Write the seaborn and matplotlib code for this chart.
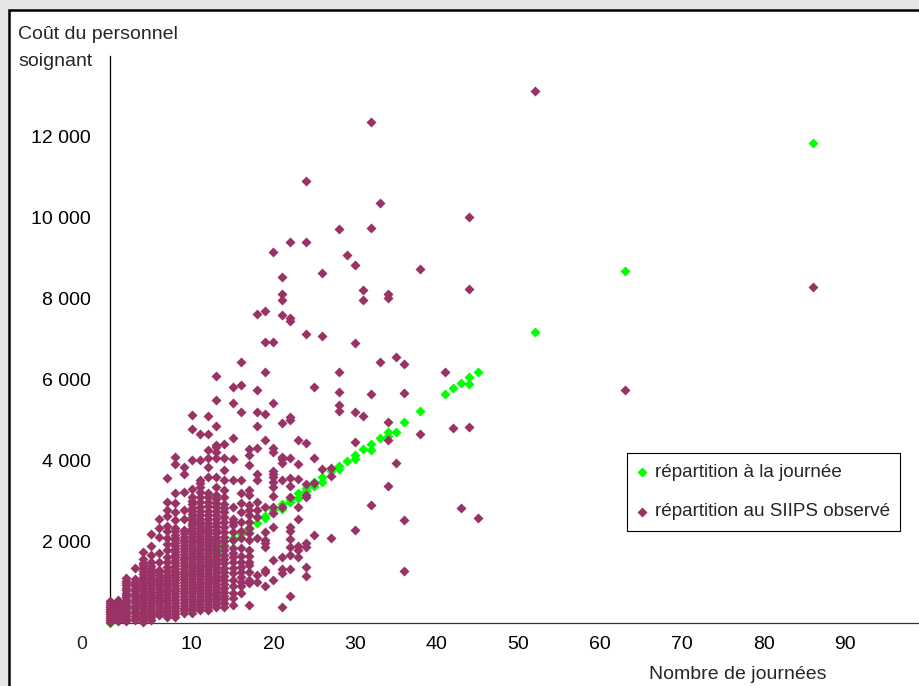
import matplotlib
matplotlib.use("Agg")
import matplotlib.pyplot as plt
from matplotlib.patches import Rectangle
import pandas as pd
import seaborn as sns

# ---------------- data ----------------
# "répartition à la journée" (green)
jour_x = [0, 1, 2, 3, 4, 5, 6, 7, 8, 9, 10, 11, 12, 13, 13, 14, 15, 15, 16, 17, 17,
          18, 19, 19, 20, 20, 21, 21, 22, 22, 23, 23, 24, 24, 25, 25, 26, 26, 27, 28, 28,
          29, 30, 30, 31, 32, 32, 33, 34, 34, 35, 36, 38, 41, 42, 43, 44, 44, 45, 52, 63, 86]
jour_y = [0, 140, 275, 410, 550, 685, 820, 960, 1095, 1230, 1370, 1505, 1630, 1750, 1830,
          1915, 2040, 2095, 2180, 2300, 2330, 2466, 2573, 2631, 2696, 2779, 2795, 2927,
          2985, 3050, 3067, 3190, 3256, 3314, 3380, 3479, 3462, 3603, 3750, 3783, 3874,
          3997, 4030, 4137, 4277, 4261, 4409, 4549, 4615, 4697, 4714, 4961, 5232, 5644,
          5784, 5924, 5891, 6056, 6195, 7175, 8680, 11843]

# "répartition au SIIPS observé" (purple) : one list per number of days
p_j0 = [20, 60, 110, 150, 200, 250, 290, 340, 390, 430, 480, 540]
p_j1 = [30, 70, 120, 170, 210, 260, 300, 350, 400, 450, 500, 550]
p_j2 = [40, 90, 150, 210, 270, 330, 380, 440, 500, 560, 620, 680, 740, 800, 860, 920, 970, 1030, 1090]
p_j3 = [50, 110, 170, 230, 290, 350, 410, 470, 530, 590, 650, 710, 770, 830, 890, 950, 1010, 1080, 1340]
p_j4 = [20, 80, 150, 220, 290, 360, 430, 500, 570, 640, 710, 780, 850, 920, 990, 1060, 1130,
        1200, 1270, 1340, 1410, 1480, 1580, 1750]
p_j5 = [60, 130, 200, 270, 340, 410, 480, 550, 620, 690, 760, 830, 900, 970, 1040, 1110, 1180,
        1250, 1320, 1390, 1500, 1670, 1890, 2180]
p_j6 = [190, 260, 330, 400, 470, 540, 610, 680, 750, 820, 890, 960, 1030, 1100, 1170, 1240,
        1300, 1500, 1710, 2120, 2330, 2560]
p_j7 = [140, 210, 280, 350, 420, 490, 560, 630, 700, 770, 840, 910, 980, 1050, 1120, 1180,
        1280, 1380, 1500, 1630, 1790, 1930, 2080, 2250, 2380, 2630, 2780, 2980, 3580]
p_j8 = [140, 210, 280, 350, 420, 490, 560, 630, 700, 770, 840, 910, 980, 1050, 1120, 1190,
        1260, 1330, 1400, 1470, 1540, 1610, 1680, 1750, 1820, 1890, 1960, 2030, 2100, 2170,
        2250, 2330, 2530, 2740, 2960, 3190, 3920, 4100]
p_j9 = [230, 300, 370, 440, 510, 580, 650, 720, 790, 860, 930, 1000, 1070, 1140, 1210, 1280,
        1350, 1420, 1490, 1560, 1630, 1700, 1770, 1840, 1910, 1980, 2050, 2120, 2200, 2290,
        2570, 2780, 3230, 3660, 3850]
p_j10 = [230, 300, 370, 440, 510, 580, 650, 720, 790, 860, 930, 1000, 1070, 1140, 1210, 1280,
         1350, 1420, 1490, 1560, 1630, 1700, 1770, 1840, 1910, 1980, 2050, 2120, 2190, 2260,
         2330, 2400, 2470, 2540, 2610, 2680, 2750, 2830, 2920, 3000, 3110, 3310, 4010, 4790, 5120]
p_j11 = [310, 380, 450, 520, 590, 660, 730, 800, 870, 940, 1010, 1080, 1150, 1220, 1290, 1360,
         1430, 1500, 1570, 1640, 1710, 1780, 1850, 1920, 1990, 2060, 2130, 2200, 2270, 2340,
         2410, 2480, 2560, 2650, 2750, 2860, 2980, 3100, 3230, 3360, 3440, 3520, 4010, 4670]
p_j12 = [310, 380, 450, 520, 590, 660, 730, 800, 870, 940, 1010, 1080, 1150, 1220, 1290, 1360,
         1430, 1500, 1570, 1640, 1710, 1780, 1850, 1920, 1990, 2060, 2130, 2200, 2280, 2370,
         2460, 2560, 2660, 2760, 2870, 2980, 3090, 3190, 3600, 3850, 4060, 4260, 4670, 5110]
p_j13 = [390, 460, 530, 600, 670, 740, 810, 880, 950, 1020, 1090, 1160, 1230, 1300, 1370, 1440,
         1510, 1580, 1650, 1720, 1800, 1880, 1960, 2040, 2120, 2200, 2290, 2380, 2470, 2560,
         2660, 2760, 2860, 2960, 3060, 3150, 3360, 3600, 4060, 4220, 4340, 4390, 4850, 5510, 6100]
p_j14 = [390, 480, 570, 660, 750, 850, 950, 1050, 1150, 1250, 1350, 1460, 1570, 1680, 1790,
         1900, 2010, 2120, 2240, 2360, 2480, 2600, 2720, 2830, 2940, 3110, 3270, 3520, 3770,
         4060, 4400]
p_j15 = [430, 600, 720, 890, 1050, 1220, 1340, 1500, 1630, 1710, 1850, 2040, 2240, 2400, 2490,
         2570, 2860, 3520, 4050, 4570, 5420, 5810]
p_j16 = [720, 890, 1010, 1130, 1260, 1380, 1500, 1640, 1830, 2100, 2250, 2490, 2740, 2950, 3190,
         3520, 5190, 5880, 6450]
p_j17 = [430, 970, 1050, 1260, 1420, 1500, 1640, 1790, 2040, 2200, 2330, 2490, 2660, 2780, 2900,
         3150, 3270, 3890, 4140, 4300]
p_j18 = [1010, 1170, 2080, 2610, 2780, 2980, 3520, 3670, 4320, 4850, 5190, 5740, 7620]
p_j19 = [890, 1260, 1300, 1870, 1960, 2040, 2240, 2860, 4520, 5150, 6190, 6930, 7690]
p_j20 = [1050, 1540, 2370, 2700, 2860, 3130, 3340, 3460, 3590, 3670, 3750, 4220, 4310, 5430,
         6930, 9150]
p_j21 = [375, 1215, 1310, 1630, 2860, 3520, 3950, 4030, 4100, 4940, 7600, 7960, 8120, 8540]
p_j22 = [660, 1330, 1670, 1870, 2060, 2260, 2370, 3110, 3370, 3580, 4070, 5000, 5070, 7450,
         7530, 9410]
p_j23 = [1620, 1790, 1890, 2560, 2860, 3550, 3920, 4510]

siips_cols = [p_j0, p_j1, p_j2, p_j3, p_j4, p_j5, p_j6, p_j7, p_j8, p_j9, p_j10, p_j11,
              p_j12, p_j13, p_j14, p_j15, p_j16, p_j17, p_j18, p_j19, p_j20, p_j21, p_j22, p_j23]

# sparse purple points (24 days and more)
siips_x = [24, 24, 24, 24, 24, 24, 24, 24, 24, 24, 24,
           25, 25, 25, 25,
           26, 26, 26,
           27, 27, 27,
           28, 28, 28, 28, 28,
           29,
           30, 30, 30, 30, 30,
           31, 31, 31,
           32, 32, 32, 32,
           33, 33,
           34, 34, 34, 34, 34,
           35, 35,
           36, 36, 36, 36,
           38, 38, 41, 42, 43, 44, 44, 44, 45, 52, 63, 86]
siips_y = [1140, 1370, 1870, 1960, 3090, 3150, 3420, 4440, 7120, 9410, 10910,
           2170, 3440, 4070, 5810,
           3790, 7090, 8630,
           2080, 3620, 3810,
           5230, 5370, 5700, 6180, 9730,
           9090,
           2290, 4470, 5190, 6910, 8830,
           5100, 7980, 8210,
           2900, 5640, 9740, 12360,
           6430, 10370,
           3370, 4510, 4950, 8020, 8130,
           3930, 6550,
           1280, 2530, 5660, 6390,
           4660, 8740, 6190, 4800, 2840, 4820, 8240, 10020, 2580, 13130, 5740, 8290]

x_ticks = [10, 20, 30, 40, 50, 60, 70, 80, 90]
y_ticks = [0, 2000, 4000, 6000, 8000, 10000, 12000, 14000]
y_labels = ["", "2 000", "4 000", "6 000", "8 000", "10 000", "12 000", ""]

lab_jour = "répartition à la journée"
lab_siips = "répartition au SIIPS observé"

# ---------------- build tables ----------------
df_jour = pd.DataFrame({"jours": jour_x, "cout": jour_y})
sx, sy = [], []
for d, col in enumerate(siips_cols):
    sx += [d] * len(col)
    sy += col
sx += siips_x
sy += siips_y
df_siips = pd.DataFrame({"jours": sx, "cout": sy})

# ---------------- figure ----------------
sns.set_style("white")
plt.rcParams["font.family"] = ["Liberation Sans", "DejaVu Sans"]

W, H = 920, 686
fig = plt.figure(figsize=(W / 100, H / 100), dpi=100)
fig.patch.set_facecolor("#e6e6e6")
frame = Rectangle((8.7 / W, -0.1), 1.2, 1 - 9.5 / H + 0.1, transform=fig.transFigure,
                  facecolor="white", edgecolor="black", linewidth=1.8, zorder=-1)
fig.add_artist(frame)

ax = fig.add_axes([110 / W, (H - 622.5) / H, 817 / W, 566.5 / H])
ax.set_facecolor("none")

MS = 26
sns.scatterplot(data=df_jour, x="jours", y="cout", color="#00FF00", marker="D", s=MS,
                linewidth=0, label=lab_jour, ax=ax, zorder=3, clip_on=False, legend=False)
sns.scatterplot(data=df_siips, x="jours", y="cout", color="#993366", marker="D", s=MS,
                linewidth=0, label=lab_siips, ax=ax, zorder=4, clip_on=False, legend=False)

ax.set_xlim(0, 100)
ax.set_ylim(0, 14000)
ax.set_xlabel("")
ax.set_ylabel("")
for s in ("top", "right"):
    ax.spines[s].set_visible(False)
ax.spines["left"].set_color("black")
ax.spines["left"].set_linewidth(0.9)
ax.spines["bottom"].set_color("#333333")
ax.spines["bottom"].set_linewidth(0.9)

ax.set_yticks(y_ticks)
ax.set_yticklabels(y_labels)
ax.set_xticks(x_ticks)
ax.set_xticklabels([str(v) for v in x_ticks])
ax.tick_params(axis="y", direction="out", length=7, width=0.6, color="#aaaaaa",
               pad=7, labelsize=14, labelcolor="black")
ax.tick_params(axis="x", direction="out", length=4, width=0.8, color="#444444",
               pad=6, labelsize=14, labelcolor="black")

fig.text(82 / W, 1 - 649 / H, "0", ha="center", va="baseline", fontsize=14)
fig.text(18 / W, 1 - 39 / H, "Coût du personnel", ha="left", va="baseline", fontsize=14)
fig.text(18 / W, 1 - 66 / H, "soignant", ha="left", va="baseline", fontsize=14)
fig.text(738 / W, 1 - 679 / H, "Nombre de journées", ha="center", va="baseline", fontsize=14)

leg = ax.legend(loc="upper left", bbox_to_anchor=(627 / W, 1 - 453 / H),
                bbox_transform=fig.transFigure, frameon=True, fancybox=False,
                shadow=False, fontsize=13.6, handlelength=0.5, handletextpad=0.42,
                borderpad=0.55, labelspacing=1.2, borderaxespad=0, framealpha=1)
leg.get_frame().set_edgecolor("black")
leg.get_frame().set_linewidth(0.8)

fig.savefig("out.png", dpi=100, facecolor=fig.get_facecolor())
